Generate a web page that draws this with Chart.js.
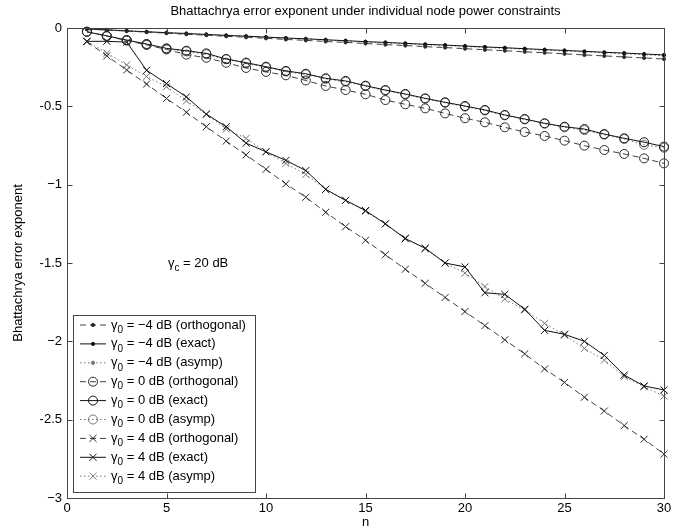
<!DOCTYPE html>
<html>
<head>
<meta charset="utf-8">
<script src="https://cdn.jsdelivr.net/npm/chart.js"></script>
<style>
  html, body { margin: 0; padding: 0; background: #fff; }
  #caixa { width: 694px; height: 532px; }
</style>
</head>
<body>
<div id="caixa"><canvas id="graficoExpoente" width="694" height="532"></canvas></div>
<script>
// Número de nós
const nos = [1, 2, 3, 4, 5, 6, 7, 8, 9, 10, 11, 12, 13, 14, 15, 16, 17, 18, 19, 20, 21, 22, 23, 24, 25, 26, 27, 28, 29, 30];

// gamma0 = -4 dB
const m4Ortogonal = [-0.007, -0.013, -0.02, -0.026, -0.033, -0.04, -0.046, -0.053, -0.059, -0.066, -0.073, -0.079, -0.086, -0.092, -0.099, -0.106, -0.112, -0.119, -0.125, -0.132, -0.139, -0.145, -0.152, -0.158, -0.165, -0.172, -0.178, -0.185, -0.191, -0.198];
const m4Exato = [-0.006, -0.012, -0.018, -0.024, -0.03, -0.035, -0.041, -0.047, -0.052, -0.058, -0.064, -0.069, -0.075, -0.081, -0.087, -0.092, -0.098, -0.104, -0.109, -0.115, -0.121, -0.126, -0.132, -0.138, -0.143, -0.149, -0.155, -0.16, -0.166, -0.172];
const m4Assint = [-0.006, -0.012, -0.018, -0.024, -0.03, -0.036, -0.042, -0.048, -0.054, -0.06, -0.066, -0.071, -0.077, -0.083, -0.089, -0.095, -0.101, -0.107, -0.112, -0.118, -0.124, -0.13, -0.136, -0.142, -0.147, -0.153, -0.159, -0.165, -0.171, -0.177];

// gamma0 = 0 dB
const z0Ortogonal = [-0.024, -0.052, -0.08, -0.108, -0.137, -0.17, -0.19, -0.222, -0.255, -0.28, -0.302, -0.335, -0.37, -0.396, -0.423, -0.46, -0.487, -0.513, -0.545, -0.576, -0.602, -0.634, -0.664, -0.689, -0.719, -0.751, -0.779, -0.804, -0.832, -0.864];
const z0Exato = [-0.024, -0.05, -0.077, -0.102, -0.13, -0.145, -0.162, -0.198, -0.221, -0.247, -0.274, -0.292, -0.321, -0.338, -0.368, -0.396, -0.421, -0.449, -0.474, -0.498, -0.523, -0.555, -0.581, -0.608, -0.63, -0.645, -0.677, -0.704, -0.729, -0.757];
const z0Assint = [-0.024, -0.052, -0.078, -0.105, -0.132, -0.15, -0.168, -0.2, -0.226, -0.252, -0.278, -0.297, -0.325, -0.343, -0.372, -0.4, -0.425, -0.452, -0.478, -0.502, -0.527, -0.558, -0.584, -0.611, -0.634, -0.652, -0.681, -0.709, -0.745, -0.765];

// gamma0 = 4 dB
const p4Ortogonal = [-0.087, -0.178, -0.268, -0.358, -0.45, -0.538, -0.63, -0.722, -0.81, -0.902, -0.995, -1.08, -1.176, -1.268, -1.355, -1.447, -1.54, -1.63, -1.72, -1.81, -1.9, -1.99, -2.08, -2.176, -2.262, -2.357, -2.445, -2.538, -2.625, -2.72];
const p4Exato = [-0.085, -0.085, -0.09, -0.27, -0.355, -0.44, -0.55, -0.63, -0.735, -0.79, -0.845, -0.91, -1.03, -1.1, -1.165, -1.25, -1.345, -1.405, -1.5, -1.525, -1.69, -1.7, -1.795, -1.93, -1.955, -2.0, -2.09, -2.215, -2.285, -2.31];
const p4Assint = [-0.085, -0.16, -0.236, -0.31, -0.375, -0.465, -0.55, -0.645, -0.705, -0.79, -0.865, -0.935, -1.03, -1.1, -1.17, -1.25, -1.34, -1.41, -1.5, -1.565, -1.65, -1.73, -1.8, -1.885, -1.96, -2.045, -2.12, -2.225, -2.29, -2.35];

// Eixos
const ticksX = [0, 5, 10, 15, 20, 25, 30];
const ticksY = [0, -0.5, -1, -1.5, -2, -2.5, -3];

const fonte = "'Liberation Sans', Arial, Helvetica, sans-serif";
const tamFonte = 13;

// estilos das curvas
const estilos = {
  ortogonal: { cor: '#2a2a2a', traco: [6, 4], largura: 0.9 },
  exato: { cor: '#111111', traco: [], largura: 1 },
  assint: { cor: '#777777', traco: [1.5, 2.5], largura: 1 }
};
const marcadores = {
  m4: { estilo: 'circle', raio: 1.6, cheio: true },
  z0: { estilo: 'circle', raio: 4.5, cheio: false },
  p4: { estilo: 'crossRot', raio: 5, cheio: false }
};

function serie(rotulo, valores, tipo, marca) {
  const e = estilos[tipo];
  const m = marcadores[marca];
  return {
    label: rotulo,
    data: nos.map((n, i) => ({ x: n, y: valores[i] })),
    borderColor: e.cor,
    borderDash: e.traco,
    borderWidth: e.largura,
    pointStyle: m.estilo,
    pointRadius: m.raio,
    pointBorderColor: e.cor,
    pointBackgroundColor: m.cheio ? e.cor : 'rgba(0,0,0,0)',
    pointBorderWidth: 1,
    tension: 0,
    fill: false,
    clip: 12
  };
}

const conjuntos = [
  serie(['0', ' = \u22124 dB (orthogonal)'], m4Ortogonal, 'ortogonal', 'm4'),
  serie(['0', ' = \u22124 dB (exact)'], m4Exato, 'exato', 'm4'),
  serie(['0', ' = \u22124 dB (asymp)'], m4Assint, 'assint', 'm4'),
  serie(['0', ' = 0 dB (orthogonal)'], z0Ortogonal, 'ortogonal', 'z0'),
  serie(['0', ' = 0 dB (exact)'], z0Exato, 'exato', 'z0'),
  serie(['0', ' = 0 dB (asymp)'], z0Assint, 'assint', 'z0'),
  serie(['0', ' = 4 dB (orthogonal)'], p4Ortogonal, 'ortogonal', 'p4'),
  serie(['0', ' = 4 dB (exact)'], p4Exato, 'exato', 'p4'),
  serie(['0', ' = 4 dB (asymp)'], p4Assint, 'assint', 'p4')
];

// escreve "γ" com subscrito seguido do resto do texto
function textoGama(ctx, x, y, sub, resto) {
  ctx.font = tamFonte + 'px ' + fonte;
  ctx.textBaseline = 'middle';
  ctx.textAlign = 'left';
  ctx.fillText('\u03b3', x, y);
  let px = x + ctx.measureText('\u03b3').width;
  ctx.font = '10px ' + fonte;
  ctx.fillText(sub, px, y + 5);
  px += ctx.measureText(sub).width;
  ctx.font = tamFonte + 'px ' + fonte;
  ctx.fillText(resto, px, y);
}

// moldura, marcas internas, título, legenda e anotação
const decoracao = {
  id: 'decoracao',
  afterDraw(chart) {
    const ctx = chart.ctx;
    const { left, right, top, bottom } = chart.chartArea;
    const sx = chart.scales.x, sy = chart.scales.y;
    ctx.save();
    ctx.strokeStyle = '#444';
    ctx.lineWidth = 1;
    ctx.setLineDash([]);
    const l = Math.round(left) + 0.5, r = Math.round(right) + 0.5;
    const t = Math.round(top) + 0.5, b = Math.round(bottom) + 0.5;
    ctx.strokeRect(l, t, r - l, b - t);
    ctx.beginPath();
    ticksX.forEach(v => {
      const px = Math.round(sx.getPixelForValue(v)) + 0.5;
      ctx.moveTo(px, b); ctx.lineTo(px, b - 5);
      ctx.moveTo(px, t); ctx.lineTo(px, t + 5);
    });
    ticksY.forEach(v => {
      const py = Math.round(sy.getPixelForValue(v)) + 0.5;
      ctx.moveTo(l, py); ctx.lineTo(l + 5, py);
      ctx.moveTo(r, py); ctx.lineTo(r - 5, py);
    });
    ctx.stroke();

    // título
    ctx.fillStyle = '#000';
    ctx.font = tamFonte + 'px ' + fonte;
    ctx.textAlign = 'center';
    ctx.textBaseline = 'middle';
    ctx.fillText('Bhattachrya error exponent under individual node power constraints', (left + right) / 2, 11);

    // anotação
    textoGama(ctx, 168, 263, 'c', ' = 20 dB');

    // legenda
    const lx = 73.5, ly = 315.5, lw = 182, lh = 177;
    ctx.fillStyle = '#fff';
    ctx.fillRect(lx, ly, lw, lh);
    ctx.strokeStyle = '#444';
    ctx.strokeRect(lx, ly, lw, lh);
    chart.data.datasets.forEach((ds, i) => {
      const y = 325 + i * 18.9;
      ctx.strokeStyle = ds.borderColor;
      ctx.lineWidth = ds.borderWidth;
      ctx.setLineDash(ds.borderDash);
      ctx.beginPath();
      ctx.moveTo(80, y); ctx.lineTo(106, y);
      ctx.stroke();
      ctx.setLineDash([]);
      ctx.lineWidth = 1;
      ctx.strokeStyle = ds.pointBorderColor;
      ctx.fillStyle = ds.pointBackgroundColor;
      Chart.helpers.drawPoint(ctx, { pointStyle: ds.pointStyle, radius: ds.pointRadius, borderWidth: 1, rotation: 0 }, 93, y);
      ctx.fillStyle = '#000';
      textoGama(ctx, 111, y, ds.label[0], ds.label[1]);
    });
    ctx.restore();
  }
};

const ctx = document.getElementById('graficoExpoente').getContext('2d');

const graficoExpoente = new Chart(ctx, {
  type: 'line',
  data: { datasets: conjuntos },
  options: {
    responsive: false,
    animation: false,
    layout: { padding: { top: 28, right: 30, left: 0, bottom: 0 } },
    plugins: {
      legend: { display: false },
      title: { display: false },
      tooltip: { enabled: false }
    },
    scales: {
      x: {
        type: 'linear',
        min: 0,
        max: 30,
        afterFit(escala) { escala.height = 34; },
        afterBuildTicks(escala) { escala.ticks = ticksX.map(v => ({ value: v })); },
        grid: { display: false, drawTicks: false },
        border: { display: false },
        ticks: { padding: 3, color: '#000', font: { size: tamFonte, family: fonte }, maxRotation: 0 },
        title: { display: true, text: 'n', color: '#000', font: { size: tamFonte, family: fonte }, padding: { top: 0, bottom: 2 } }
      },
      y: {
        type: 'linear',
        min: -3,
        max: 0,
        afterFit(escala) { escala.width = 67; },
        afterBuildTicks(escala) { escala.ticks = ticksY.map(v => ({ value: v })); },
        grid: { display: false, drawTicks: false },
        border: { display: false },
        ticks: {
          padding: 5,
          color: '#000',
          font: { size: tamFonte, family: fonte },
          callback: v => v === 0 ? '0' : (Number.isInteger(v) ? '\u2212' : '-') + Math.abs(v)
        },
        title: { display: true, text: 'Bhattachrya error exponent', color: '#000', font: { size: tamFonte, family: fonte }, padding: { top: 11, bottom: 0 } }
      }
    }
  },
  plugins: [decoracao]
});
</script>
</body>
</html>
